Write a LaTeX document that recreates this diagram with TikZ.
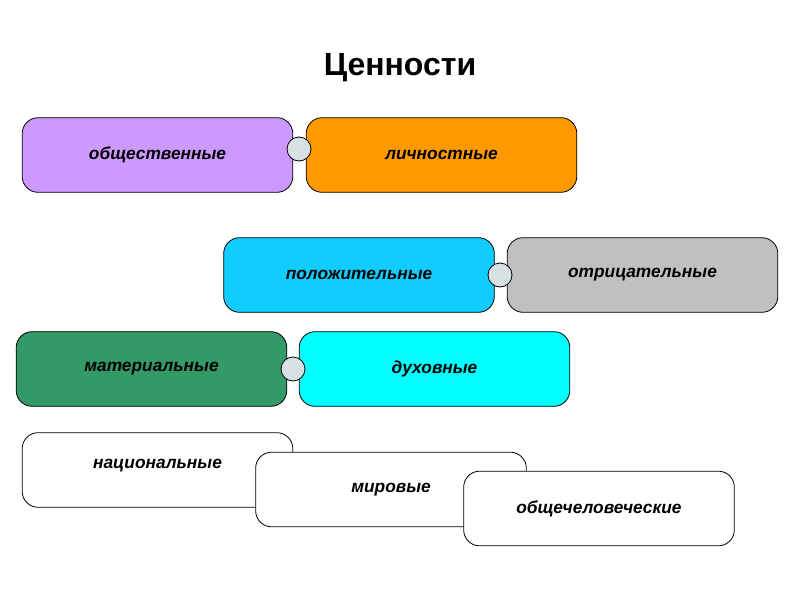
\documentclass[tikz,border=0pt]{standalone}
\usepackage{fontspec}
\setmainfont{Liberation Sans}
\begin{document}
\begin{tikzpicture}[x=0.75pt,y=-0.75pt,
  bx/.style={draw=black,line width=0.6pt,rounded corners=12pt,minimum width=203pt,minimum height=56pt,inner sep=0pt,font=\fontsize{13}{15}\selectfont\bfseries\itshape},
  jn/.style={circle,draw=black,line width=0.6pt,fill=cyan!20!gray!30,minimum size=18pt,inner sep=0pt}]
\useasboundingbox (0,0) rectangle (800,600);
\fill[white] (0,0) rectangle (800,600);
\node (t) at (400,68) {\fontsize{24}{28}\selectfont\bfseries Ценности};
\definecolor{lil}{HTML}{CC99FF}\definecolor{org}{HTML}{FF9900}
\definecolor{blu}{HTML}{11CCFF}\definecolor{gry}{HTML}{C0C0C0}
\definecolor{grn}{HTML}{339966}\definecolor{cyn}{HTML}{00FFFF}
\node[bx,fill=lil] (a) at (157.5,155) {общественные};
\node[bx,fill=org] (b) at (441.5,155) {личностные};
\node[jn] (c1) at (299,149) {};
\node[bx,fill=blu] (p) at (359,275) {положительные};
\node[bx,fill=gry] (n) at (642.5,275) {отрицательные};
\node[jn] (c2) at (500,275) {};
\node[bx,fill=grn] (m) at (151.5,369) {материальные};
\node[bx,fill=cyn] (d) at (434.5,369) {духовные};
\node[jn] (c3) at (293,369) {};
\node[bx,fill=white,text height=0pt] (na) at (157.5,470) {\raisebox{0pt}{национальные}};
\node[bx,fill=white] (mi) at (391,489.5) {мировые};
\node[bx,fill=white] (ob) at (599,508.5) {общечеловеческие};
\end{tikzpicture}
\end{document}
